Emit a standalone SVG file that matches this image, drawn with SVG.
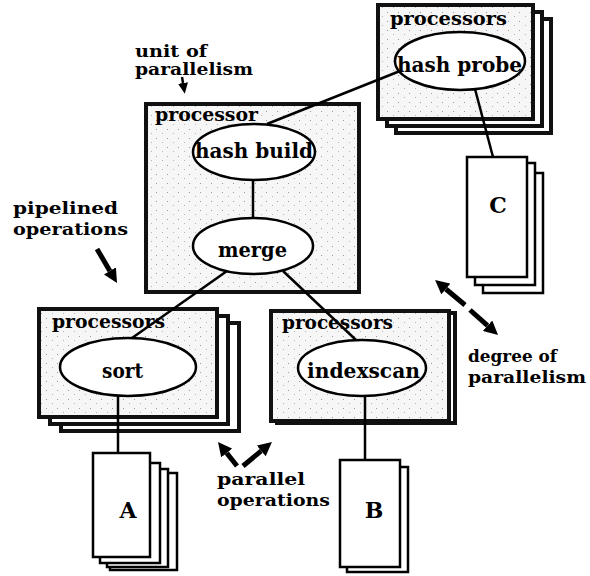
<svg xmlns="http://www.w3.org/2000/svg" width="590" height="576" viewBox="0 0 590 576">
  <defs>
    <style>
      text { font-family: "DejaVu Serif", "Liberation Serif", serif; font-weight: bold; fill: #000; }
      .lbl { font-size: 18px; }
      .note { font-size: 17px; }
      .op { font-size: 20px; }
      .doc-l { font-size: 22px; text-anchor: middle; }
      .box { fill: url(#stip); stroke: #111; stroke-width: 4; }
      .back { fill: #fff; stroke: #111; stroke-width: 4; }
      .ell { fill: #fff; stroke: #000; stroke-width: 2.5; }
      .doc { fill: #fff; stroke: #000; stroke-width: 2.5; }
      .conn { stroke: #000; stroke-width: 2.5; fill: none; }
      .fat { stroke: #000; stroke-width: 5; fill: none; marker-end: url(#fathead); }
      .thin { stroke: #000; stroke-width: 2.5; fill: none; marker-end: url(#smallhead); }
    </style>
    <pattern id="stip" width="11" height="9" patternUnits="userSpaceOnUse">
      <rect width="11" height="9" fill="#f6f6f6"/>
      <rect x="2" y="3" width="1" height="1" fill="#9a9a9a"/>
      <rect x="8" y="7" width="1" height="1" fill="#b5b5b5"/>
    </pattern>
    <marker id="fathead" markerUnits="userSpaceOnUse" markerWidth="14" markerHeight="14" viewBox="0 -7 14 14" refX="0" refY="0" orient="auto">
      <path d="M0,-7 L14,0 L0,7 z" fill="#000"/>
    </marker>
    <marker id="smallhead" markerUnits="userSpaceOnUse" markerWidth="11" markerHeight="10" viewBox="0 -5 11 10" refX="0" refY="0" orient="auto">
      <path d="M0,-5 L11,0 L0,5 z" fill="#000"/>
    </marker>
  </defs>

  <rect width="590" height="576" fill="#fff"/>

  <!-- processor boxes -->
  <g id="proc-probe">
    <rect class="back" x="396" y="19" width="155" height="114"/>
    <rect class="back" x="387" y="12" width="155" height="114"/>
    <rect class="box" x="378" y="5" width="155" height="114"/>
    <text class="lbl" x="390" y="25" textLength="117" lengthAdjust="spacingAndGlyphs">processors</text>
  </g>
  <g id="proc-build">
    <rect class="box" x="146" y="104" width="213" height="188"/>
    <text class="lbl" x="155" y="121" textLength="103" lengthAdjust="spacingAndGlyphs">processor</text>
  </g>
  <g id="proc-sort">
    <rect class="back" x="61" y="323" width="178" height="108"/>
    <rect class="back" x="50" y="316" width="178" height="108"/>
    <rect class="box" x="39" y="309" width="178" height="108"/>
    <text class="lbl" x="52" y="328" textLength="113" lengthAdjust="spacingAndGlyphs">processors</text>
  </g>
  <g id="proc-index">
    <rect class="back" x="277" y="313" width="178" height="110"/>
    <rect class="box" x="271" y="311" width="178" height="110"/>
    <text class="lbl" x="282" y="329" textLength="111" lengthAdjust="spacingAndGlyphs">processors</text>
  </g>

  <!-- connectors -->
  <g id="connectors">
    <line class="conn" x1="267" y1="124" x2="400" y2="71"/>
    <line class="conn" x1="475" y1="89" x2="493" y2="157"/>
    <line class="conn" x1="253" y1="180" x2="253" y2="218"/>
    <line class="conn" x1="227" y1="271" x2="132" y2="338"/>
    <line class="conn" x1="283" y1="271" x2="356" y2="340"/>
    <line class="conn" x1="118" y1="396" x2="118" y2="453"/>
    <line class="conn" x1="365" y1="396" x2="365" y2="460"/>
  </g>

  <!-- operator nodes -->
  <g id="hash-probe">
    <ellipse class="ell" cx="460" cy="61" rx="65" ry="29"/>
    <text class="op" x="397" y="72" textLength="125" lengthAdjust="spacingAndGlyphs">hash probe</text>
  </g>
  <g id="hash-build">
    <ellipse class="ell" cx="254" cy="152" rx="61" ry="28"/>
    <text class="op" x="195" y="158" textLength="118" lengthAdjust="spacingAndGlyphs">hash build</text>
  </g>
  <g id="merge">
    <ellipse class="ell" cx="253" cy="246" rx="60" ry="28"/>
    <text class="op" x="218" y="257" textLength="69" lengthAdjust="spacingAndGlyphs">merge</text>
  </g>
  <g id="sort">
    <ellipse class="ell" cx="128" cy="367" rx="68" ry="29"/>
    <text class="op" x="102" y="378" textLength="41" lengthAdjust="spacingAndGlyphs">sort</text>
  </g>
  <g id="indexscan">
    <ellipse class="ell" cx="362" cy="368" rx="64" ry="28"/>
    <text class="op" x="307" y="378" textLength="113" lengthAdjust="spacingAndGlyphs">indexscan</text>
  </g>

  <!-- data documents -->
  <g id="doc-A">
    <rect class="doc" x="110" y="473" width="67" height="97"/>
    <rect class="doc" x="107" y="469" width="61" height="98"/>
    <rect class="doc" x="100" y="463" width="60" height="100"/>
    <rect class="doc" x="93" y="453" width="57" height="104"/>
    <text class="doc-l" x="128" y="518">A</text>
  </g>
  <g id="doc-B">
    <rect class="doc" x="347" y="467" width="61" height="105"/>
    <rect class="doc" x="340" y="460" width="60" height="107"/>
    <text class="doc-l" x="374" y="518">B</text>
  </g>
  <g id="doc-C">
    <rect class="doc" x="483" y="173" width="60" height="120"/>
    <rect class="doc" x="475" y="163" width="60" height="122"/>
    <rect class="doc" x="467" y="157" width="60" height="120"/>
    <text class="doc-l" x="498" y="213">C</text>
  </g>

  <!-- annotations -->
  <g id="note-unit">
    <text class="note" x="135" y="57" textLength="72" lengthAdjust="spacingAndGlyphs">unit of</text>
    <text class="note" x="135" y="75" textLength="118" lengthAdjust="spacingAndGlyphs">parallelism</text>
    <line class="thin" x1="182" y1="77" x2="183" y2="83"/>
  </g>
  <g id="note-pipelined">
    <text class="note" x="13" y="214" textLength="105" lengthAdjust="spacingAndGlyphs">pipelined</text>
    <text class="note" x="13" y="235" textLength="115" lengthAdjust="spacingAndGlyphs">operations</text>
    <line class="fat" x1="97" y1="249" x2="109.9" y2="270.9"/>
  </g>
  <g id="note-degree">
    <text class="note" x="468" y="362" textLength="89" lengthAdjust="spacingAndGlyphs">degree of</text>
    <text class="note" x="468" y="383" textLength="118" lengthAdjust="spacingAndGlyphs">parallelism</text>
    <line class="fat" x1="465" y1="305" x2="445.8" y2="289"/>
    <line class="fat" x1="470" y1="310" x2="487.6" y2="325.7"/>
  </g>
  <g id="note-parallel">
    <text class="note" x="217" y="485" textLength="88" lengthAdjust="spacingAndGlyphs">parallel</text>
    <text class="note" x="217" y="506" textLength="113" lengthAdjust="spacingAndGlyphs">operations</text>
    <line class="fat" x1="237" y1="466" x2="226.7" y2="453"/>
    <line class="fat" x1="243" y1="466" x2="261.2" y2="450.9"/>
  </g>
</svg>
